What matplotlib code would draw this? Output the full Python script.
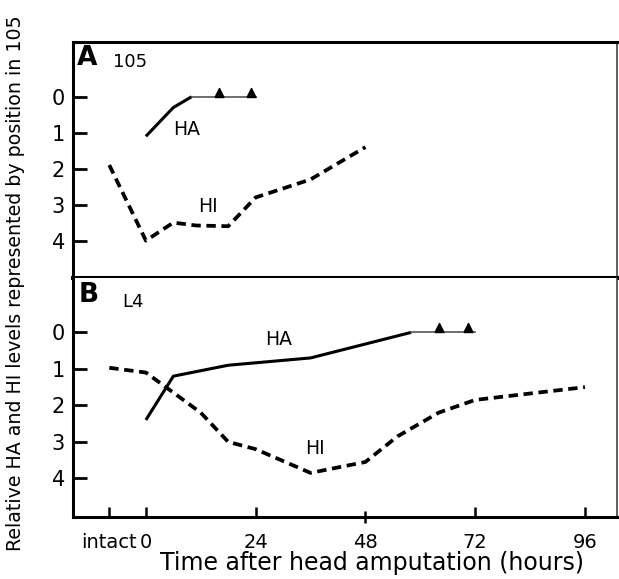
import matplotlib
matplotlib.use("Agg")
import matplotlib.pyplot as plt

plt.rcParams['font.family'] = ['DejaVu Sans']

# ---- data ----
# Panel A (105)
a_ha_t = [0, 6, 10]
a_ha_v = [1.1, 0.3, 0.0]
a_ha_flat_t = [10, 24]
a_ha_flat_v = [0.0, 0.0]
a_tri_t = [16, 23]
a_tri_v = [0.0, 0.0]
a_hi_t = [-8, 0, 6, 11, 18, 24, 36, 48]
a_hi_v = [1.9, 4.0, 3.5, 3.58, 3.6, 2.8, 2.3, 1.4]

# Panel B (L4)
b_ha_t = [0, 6, 18, 36, 58]
b_ha_v = [2.4, 1.2, 0.9, 0.7, 0.0]
b_ha_flat_t = [58, 72]
b_ha_flat_v = [0.0, 0.0]
b_tri_t = [64, 70.5]
b_tri_v = [0.0, 0.0]
b_hi_t = [-8, 0, 6, 12, 18, 24, 36, 48, 55, 64, 72, 96]
b_hi_v = [0.97, 1.1, 1.65, 2.2, 3.0, 3.2, 3.85, 3.55, 2.85, 2.2, 1.85, 1.5]

y_ticks = [0, 1, 2, 3, 4]
x_ticks_major = [-8, 0, 24, 72, 96]
x_labels_major = ['intact', '0', '24', '72', '96']
x_ticks_minor = [48]
x_labels_minor = ['48']

W, H = 619, 579
fig = plt.figure(figsize=(W / 100, H / 100), dpi=100)
fig.patch.set_facecolor('white')

left, right = 72.7 / W, 617 / W
top_a, mid, bot = 1 - 41.7 / H, 1 - 278 / H, 1 - 516.7 / H
axA = fig.add_axes([left, mid, right - left, top_a - mid])
axB = fig.add_axes([left, bot, right - left, mid - bot])

tri = [(-0.5, 0), (0.5, 0), (0, 1), (-0.5, 0)]
dash = (0, (2.5, 1.5))

def draw(ax, ha_t, ha_v, fl_t, fl_v, tr_t, tr_v, hi_t, hi_v):
    ax.plot(ha_t, ha_v, color='black', lw=2.2, solid_capstyle='butt', solid_joinstyle='round')
    ax.plot(fl_t, fl_v, color='#555555', lw=1.2)
    ax.plot(tr_t, tr_v, linestyle='none', marker=tri, markersize=13, color='black')
    ax.plot(hi_t, hi_v, color='black', lw=2.7, linestyle=dash, dash_capstyle='butt')

draw(axA, a_ha_t, a_ha_v, a_ha_flat_t, a_ha_flat_v, a_tri_t, a_tri_v, a_hi_t, a_hi_v)
draw(axB, b_ha_t, b_ha_v, b_ha_flat_t, b_ha_flat_v, b_tri_t, b_tri_v, b_hi_t, b_hi_v)

axA.set_ylim(5.04, -1.53)
axB.set_ylim(5.05, -1.49)
for ax in (axA, axB):
    ax.set_xlim(-16, 103)
    ax.set_yticks(y_ticks)
    ax.tick_params(axis='y', direction='in', length=10, width=2.0, labelsize=15, pad=5.5)
    ax.spines['left'].set_linewidth(2.2)
    ax.spines['right'].set_linewidth(1.1)
    ax.spines['right'].set_color('#333333')

axA.set_xticks([])
axA.spines['top'].set_linewidth(2.2)
axA.spines['bottom'].set_linewidth(2.9)
axB.spines['top'].set_visible(False)
axB.spines['bottom'].set_linewidth(2.2)

axB.set_xticks(x_ticks_major, labels=x_labels_major)
axB.set_xticks(x_ticks_minor, labels=x_labels_minor, minor=True)
axB.tick_params(axis='x', which='major', direction='in', length=7.5, width=1.8, labelsize=14, pad=12)
axB.tick_params(axis='x', which='minor', direction='inout', length=8, width=1.8, labelsize=14, pad=8)

# panel labels
axA.text(0.026, 0.930, 'A', transform=axA.transAxes, fontsize=19, fontweight='bold', ha='center', va='center')
axA.text(0.105, 0.915, '105', transform=axA.transAxes, fontsize=13, ha='center', va='center')
axB.text(0.0286, 0.929, 'B', transform=axB.transAxes, fontsize=19, fontweight='bold', ha='center', va='center')
axB.text(0.111, 0.901, 'L4', transform=axB.transAxes, fontsize=13, ha='center', va='center')

axA.text(8.9, 0.9, 'HA', fontsize=13.5, ha='center', va='center')
axA.text(13.6, 3.04, 'HI', fontsize=13.5, ha='center', va='center')
axB.text(29, 0.2, 'HA', fontsize=13.5, ha='center', va='center')
axB.text(37, 3.18, 'HI', fontsize=13.5, ha='center', va='center')

fig.text(16 / W, 1 - 283 / H, 'Relative HA and HI levels represented by position in 105',
         rotation=90, ha='center', va='center', fontsize=13.7)
fig.text(372 / W, 1 - 563 / H, 'Time after head amputation (hours)',
         ha='center', va='center', fontsize=17)

fig.savefig('out.png', dpi=100, facecolor='white')
